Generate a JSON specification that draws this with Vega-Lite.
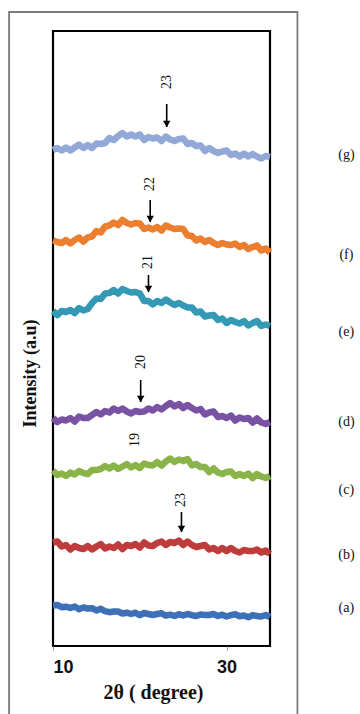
{
  "$schema": "https://vega.github.io/schema/vega-lite/v6.json",
  "width": 217,
  "height": 615,
  "autosize": "none",
  "padding": {"left": 53, "top": 31, "right": 90, "bottom": 68},
  "background": "white",
  "config": {
    "view": {"stroke": "#000000", "strokeWidth": 2.2},
    "axis": {"grid": false}
  },
  "datasets": {
    "curves": [
      {"s":"g","x":10,"y":496},{"s":"g","x":10.5,"y":498},{"s":"g","x":11,"y":495.5},{"s":"g","x":11.5,"y":498.5},{"s":"g","x":12,"y":495.5},{"s":"g","x":12.5,"y":498.5},{"s":"g","x":13,"y":501.5},{"s":"g","x":13.5,"y":498},{"s":"g","x":14,"y":501},{"s":"g","x":14.5,"y":498},{"s":"g","x":15,"y":502.5},{"s":"g","x":15.5,"y":502},{"s":"g","x":16,"y":503},{"s":"g","x":16.5,"y":508},{"s":"g","x":17,"y":506},{"s":"g","x":17.5,"y":510},{"s":"g","x":18,"y":513},{"s":"g","x":18.5,"y":509.5},{"s":"g","x":19,"y":511.5},{"s":"g","x":19.5,"y":509.5},{"s":"g","x":20,"y":511.5},{"s":"g","x":20.5,"y":506},{"s":"g","x":21,"y":509},{"s":"g","x":21.5,"y":507.5},{"s":"g","x":22,"y":508.5},{"s":"g","x":22.5,"y":505},{"s":"g","x":23,"y":509.5},{"s":"g","x":23.5,"y":506.5},{"s":"g","x":24,"y":505},{"s":"g","x":24.5,"y":507},{"s":"g","x":25,"y":507.5},{"s":"g","x":25.5,"y":502},{"s":"g","x":26,"y":503},{"s":"g","x":26.5,"y":500},{"s":"g","x":27,"y":500.5},{"s":"g","x":27.5,"y":495},{"s":"g","x":28,"y":498},{"s":"g","x":28.5,"y":495},{"s":"g","x":29,"y":493},{"s":"g","x":29.5,"y":494.5},{"s":"g","x":30,"y":495.5},{"s":"g","x":30.5,"y":491},{"s":"g","x":31,"y":492.5},{"s":"g","x":31.5,"y":489.5},{"s":"g","x":32,"y":492.5},{"s":"g","x":32.5,"y":489.5},{"s":"g","x":33,"y":492},{"s":"g","x":33.5,"y":489.5},{"s":"g","x":34,"y":487.5},{"s":"g","x":34.5,"y":490},{"s":"g","x":35,"y":489},
      {"s":"f","x":10,"y":405.5},{"s":"f","x":10.5,"y":404},{"s":"f","x":11,"y":403},{"s":"f","x":11.5,"y":406},{"s":"f","x":12,"y":402.5},{"s":"f","x":12.5,"y":406},{"s":"f","x":13,"y":408.5},{"s":"f","x":13.5,"y":404.5},{"s":"f","x":14,"y":408.5},{"s":"f","x":14.5,"y":409.5},{"s":"f","x":15,"y":415},{"s":"f","x":15.5,"y":413.5},{"s":"f","x":16,"y":419.5},{"s":"f","x":16.5,"y":420.5},{"s":"f","x":17,"y":423.5},{"s":"f","x":17.5,"y":421},{"s":"f","x":18,"y":426},{"s":"f","x":18.5,"y":423},{"s":"f","x":19,"y":421.5},{"s":"f","x":19.5,"y":423},{"s":"f","x":20,"y":422.5},{"s":"f","x":20.5,"y":417},{"s":"f","x":21,"y":418.5},{"s":"f","x":21.5,"y":416.5},{"s":"f","x":22,"y":419},{"s":"f","x":22.5,"y":415.5},{"s":"f","x":23,"y":420.5},{"s":"f","x":23.5,"y":418.5},{"s":"f","x":24,"y":417},{"s":"f","x":24.5,"y":417.5},{"s":"f","x":25,"y":417},{"s":"f","x":25.5,"y":410.5},{"s":"f","x":26,"y":410},{"s":"f","x":26.5,"y":405.5},{"s":"f","x":27,"y":407.5},{"s":"f","x":27.5,"y":404},{"s":"f","x":28,"y":406},{"s":"f","x":28.5,"y":403},{"s":"f","x":29,"y":401},{"s":"f","x":29.5,"y":403},{"s":"f","x":30,"y":401.5},{"s":"f","x":30.5,"y":401},{"s":"f","x":31,"y":402.5},{"s":"f","x":31.5,"y":399},{"s":"f","x":32,"y":401},{"s":"f","x":32.5,"y":397},{"s":"f","x":33,"y":399},{"s":"f","x":33.5,"y":400.5},{"s":"f","x":34,"y":395.5},{"s":"f","x":34.5,"y":397.5},{"s":"f","x":35,"y":393.5},
      {"s":"e","x":10,"y":335},{"s":"e","x":10.5,"y":331},{"s":"e","x":11,"y":335},{"s":"e","x":11.5,"y":334},{"s":"e","x":12,"y":336},{"s":"e","x":12.5,"y":333},{"s":"e","x":13,"y":338},{"s":"e","x":13.5,"y":335.5},{"s":"e","x":14,"y":337},{"s":"e","x":14.5,"y":343},{"s":"e","x":15,"y":347.5},{"s":"e","x":15.5,"y":347},{"s":"e","x":16,"y":352.5},{"s":"e","x":16.5,"y":353},{"s":"e","x":17,"y":356},{"s":"e","x":17.5,"y":352.5},{"s":"e","x":18,"y":357},{"s":"e","x":18.5,"y":355},{"s":"e","x":19,"y":353.5},{"s":"e","x":19.5,"y":354},{"s":"e","x":20,"y":352.5},{"s":"e","x":20.5,"y":345},{"s":"e","x":21,"y":345},{"s":"e","x":21.5,"y":341.5},{"s":"e","x":22,"y":345},{"s":"e","x":22.5,"y":343},{"s":"e","x":23,"y":346.5},{"s":"e","x":23.5,"y":343.5},{"s":"e","x":24,"y":341},{"s":"e","x":24.5,"y":343},{"s":"e","x":25,"y":340.5},{"s":"e","x":25.5,"y":338.5},{"s":"e","x":26,"y":338.5},{"s":"e","x":26.5,"y":333.5},{"s":"e","x":27,"y":334.5},{"s":"e","x":27.5,"y":329.5},{"s":"e","x":28,"y":330.5},{"s":"e","x":28.5,"y":331},{"s":"e","x":29,"y":326},{"s":"e","x":29.5,"y":327.5},{"s":"e","x":30,"y":323},{"s":"e","x":30.5,"y":326},{"s":"e","x":31,"y":324},{"s":"e","x":31.5,"y":322.5},{"s":"e","x":32,"y":325},{"s":"e","x":32.5,"y":320.5},{"s":"e","x":33,"y":323},{"s":"e","x":33.5,"y":325},{"s":"e","x":34,"y":320},{"s":"e","x":34.5,"y":321.5},{"s":"e","x":35,"y":320},
      {"s":"d","x":10,"y":228},{"s":"d","x":10.5,"y":224},{"s":"d","x":11,"y":226.5},{"s":"d","x":11.5,"y":225.5},{"s":"d","x":12,"y":228},{"s":"d","x":12.5,"y":224.5},{"s":"d","x":13,"y":229.5},{"s":"d","x":13.5,"y":228},{"s":"d","x":14,"y":228},{"s":"d","x":14.5,"y":231},{"s":"d","x":15,"y":234},{"s":"d","x":15.5,"y":231.5},{"s":"d","x":16,"y":235},{"s":"d","x":16.5,"y":233.5},{"s":"d","x":17,"y":237.5},{"s":"d","x":17.5,"y":235},{"s":"d","x":18,"y":237.5},{"s":"d","x":18.5,"y":234.5},{"s":"d","x":19,"y":232.5},{"s":"d","x":19.5,"y":235},{"s":"d","x":20,"y":234},{"s":"d","x":20.5,"y":234.5},{"s":"d","x":21,"y":237.5},{"s":"d","x":21.5,"y":235.5},{"s":"d","x":22,"y":239},{"s":"d","x":22.5,"y":236.5},{"s":"d","x":23,"y":240},{"s":"d","x":23.5,"y":243},{"s":"d","x":24,"y":239.5},{"s":"d","x":24.5,"y":242},{"s":"d","x":25,"y":238},{"s":"d","x":25.5,"y":241},{"s":"d","x":26,"y":238},{"s":"d","x":26.5,"y":235.5},{"s":"d","x":27,"y":237},{"s":"d","x":27.5,"y":231.5},{"s":"d","x":28,"y":233.5},{"s":"d","x":28.5,"y":234.5},{"s":"d","x":29,"y":229},{"s":"d","x":29.5,"y":230},{"s":"d","x":30,"y":228},{"s":"d","x":30.5,"y":230.5},{"s":"d","x":31,"y":225.5},{"s":"d","x":31.5,"y":228.5},{"s":"d","x":32,"y":227},{"s":"d","x":32.5,"y":228},{"s":"d","x":33,"y":223.5},{"s":"d","x":33.5,"y":227.5},{"s":"d","x":34,"y":223.5},{"s":"d","x":34.5,"y":222},{"s":"d","x":35,"y":224},
      {"s":"c","x":10,"y":175.5},{"s":"c","x":10.5,"y":171},{"s":"c","x":11,"y":172.5},{"s":"c","x":11.5,"y":170},{"s":"c","x":12,"y":173.5},{"s":"c","x":12.5,"y":171.5},{"s":"c","x":13,"y":175},{"s":"c","x":13.5,"y":173},{"s":"c","x":14,"y":172},{"s":"c","x":14.5,"y":176},{"s":"c","x":15,"y":176},{"s":"c","x":15.5,"y":177},{"s":"c","x":16,"y":180},{"s":"c","x":16.5,"y":177.5},{"s":"c","x":17,"y":180.5},{"s":"c","x":17.5,"y":177},{"s":"c","x":18,"y":179.5},{"s":"c","x":18.5,"y":182},{"s":"c","x":19,"y":178.5},{"s":"c","x":19.5,"y":181},{"s":"c","x":20,"y":178},{"s":"c","x":20.5,"y":182.5},{"s":"c","x":21,"y":181},{"s":"c","x":21.5,"y":180.5},{"s":"c","x":22,"y":184},{"s":"c","x":22.5,"y":180.5},{"s":"c","x":23,"y":184.5},{"s":"c","x":23.5,"y":187.5},{"s":"c","x":24,"y":184},{"s":"c","x":24.5,"y":186.5},{"s":"c","x":25,"y":185},{"s":"c","x":25.5,"y":187},{"s":"c","x":26,"y":180.5},{"s":"c","x":26.5,"y":182},{"s":"c","x":27,"y":179},{"s":"c","x":27.5,"y":179},{"s":"c","x":28,"y":174},{"s":"c","x":28.5,"y":177.5},{"s":"c","x":29,"y":173.5},{"s":"c","x":29.5,"y":172},{"s":"c","x":30,"y":174},{"s":"c","x":30.5,"y":174.5},{"s":"c","x":31,"y":170},{"s":"c","x":31.5,"y":172},{"s":"c","x":32,"y":170},{"s":"c","x":32.5,"y":172.5},{"s":"c","x":33,"y":168},{"s":"c","x":33.5,"y":172},{"s":"c","x":34,"y":169.5},{"s":"c","x":34.5,"y":168},{"s":"c","x":35,"y":170},
      {"s":"b","x":10,"y":103.5},{"s":"b","x":10.5,"y":104.5},{"s":"b","x":11,"y":99.5},{"s":"b","x":11.5,"y":101},{"s":"b","x":12,"y":96.5},{"s":"b","x":12.5,"y":100},{"s":"b","x":13,"y":98},{"s":"b","x":13.5,"y":97},{"s":"b","x":14,"y":100},{"s":"b","x":14.5,"y":96.5},{"s":"b","x":15,"y":99.5},{"s":"b","x":15.5,"y":102},{"s":"b","x":16,"y":97.5},{"s":"b","x":16.5,"y":99.5},{"s":"b","x":17,"y":98},{"s":"b","x":17.5,"y":101.5},{"s":"b","x":18,"y":97},{"s":"b","x":18.5,"y":101},{"s":"b","x":19,"y":100},{"s":"b","x":19.5,"y":102},{"s":"b","x":20,"y":98.5},{"s":"b","x":20.5,"y":103.5},{"s":"b","x":21,"y":100.5},{"s":"b","x":21.5,"y":100},{"s":"b","x":22,"y":103},{"s":"b","x":22.5,"y":104.5},{"s":"b","x":23,"y":101},{"s":"b","x":23.5,"y":104},{"s":"b","x":24,"y":103},{"s":"b","x":24.5,"y":105.5},{"s":"b","x":25,"y":101},{"s":"b","x":25.5,"y":104.5},{"s":"b","x":26,"y":101},{"s":"b","x":26.5,"y":99},{"s":"b","x":27,"y":100},{"s":"b","x":27.5,"y":101},{"s":"b","x":28,"y":96.5},{"s":"b","x":28.5,"y":98},{"s":"b","x":29,"y":95},{"s":"b","x":29.5,"y":98},{"s":"b","x":30,"y":95},{"s":"b","x":30.5,"y":98},{"s":"b","x":31,"y":95},{"s":"b","x":31.5,"y":93.5},{"s":"b","x":32,"y":96},{"s":"b","x":32.5,"y":95},{"s":"b","x":33,"y":95},{"s":"b","x":33.5,"y":96.5},{"s":"b","x":34,"y":93.5},{"s":"b","x":34.5,"y":95.5},{"s":"b","x":35,"y":92},
      {"s":"a","x":10,"y":40.5},{"s":"a","x":10.5,"y":41},{"s":"a","x":11,"y":38.8},{"s":"a","x":11.5,"y":39.3},{"s":"a","x":12,"y":38},{"s":"a","x":12.5,"y":39.5},{"s":"a","x":13,"y":36.8},{"s":"a","x":13.5,"y":38.5},{"s":"a","x":14,"y":37.5},{"s":"a","x":14.5,"y":37.8},{"s":"a","x":15,"y":35.5},{"s":"a","x":15.5,"y":37.3},{"s":"a","x":16,"y":34.8},{"s":"a","x":16.5,"y":33.8},{"s":"a","x":17,"y":34.5},{"s":"a","x":17.5,"y":34.5},{"s":"a","x":18,"y":32.5},{"s":"a","x":18.5,"y":33.3},{"s":"a","x":19,"y":32},{"s":"a","x":19.5,"y":33.3},{"s":"a","x":20,"y":30.8},{"s":"a","x":20.5,"y":33},{"s":"a","x":21,"y":32},{"s":"a","x":21.5,"y":31},{"s":"a","x":22,"y":32},{"s":"a","x":22.5,"y":32.8},{"s":"a","x":23,"y":30.3},{"s":"a","x":23.5,"y":31.3},{"s":"a","x":24,"y":30},{"s":"a","x":24.5,"y":31.8},{"s":"a","x":25,"y":30.5},{"s":"a","x":25.5,"y":32},{"s":"a","x":26,"y":30.8},{"s":"a","x":26.5,"y":30},{"s":"a","x":27,"y":31.5},{"s":"a","x":27.5,"y":31},{"s":"a","x":28,"y":31},{"s":"a","x":28.5,"y":32},{"s":"a","x":29,"y":30},{"s":"a","x":29.5,"y":31.3},{"s":"a","x":30,"y":29.5},{"s":"a","x":30.5,"y":30.8},{"s":"a","x":31,"y":31.8},{"s":"a","x":31.5,"y":29.8},{"s":"a","x":32,"y":30.5},{"s":"a","x":32.5,"y":28.8},{"s":"a","x":33,"y":30.8},{"s":"a","x":33.5,"y":30},{"s":"a","x":34,"y":29.5},{"s":"a","x":34.5,"y":31},{"s":"a","x":35,"y":29}
    ],
    "arrows": [
      {"s":"g","x":23.1,"top":542,"tip":519},
      {"s":"f","x":21.2,"top":446,"tip":424},
      {"s":"e","x":21.0,"top":371,"tip":354},
      {"s":"d","x":20.1,"top":266,"tip":244},
      {"s":"b","x":24.8,"top":134,"tip":114}
    ],
    "peaks": [
      {"x":23.1,"y":564,"t":"23"},
      {"x":21.2,"y":462,"t":"22"},
      {"x":21.0,"y":384,"t":"21"},
      {"x":20.1,"y":284,"t":"20"},
      {"x":19.4,"y":206,"t":"19"},
      {"x":24.8,"y":146,"t":"23"}
    ],
    "samples": [
      {"t":"(g)","y":491},
      {"t":"(f)","y":391},
      {"t":"(e)","y":314},
      {"t":"(d)","y":224},
      {"t":"(c)","y":156},
      {"t":"(b)","y":91},
      {"t":"(a)","y":38}
    ]
  },
  "layer": [
    {
      "data": {"values": [{}]},
      "mark": {"type": "rect", "fill": null, "stroke": "#7a7a7a", "strokeWidth": 1.8, "clip": false},
      "encoding": {
        "x": {"datum": 4.94, "type": "quantitative", "scale": {"domain": [10, 35], "nice": false, "zero": false}},
        "x2": {"datum": 38.16},
        "y": {"datum": 634, "type": "quantitative", "scale": {"domain": [0, 615], "nice": false, "zero": false}},
        "y2": {"datum": -100}
      }
    },
    {
      "data": {"name": "curves"},
      "mark": {"type": "line", "strokeWidth": 6.5, "strokeJoin": "round", "strokeCap": "butt", "interpolate": "linear"},
      "encoding": {
        "x": {"field": "x", "type": "quantitative", "scale": {"domain": [10, 35], "nice": false, "zero": false},
          "axis": {"values": [10, 30], "title": "2θ ( degree)", "domain": false, "grid": false, "ticks": true, "tickSize": 4, "tickColor": "#999999", "tickWidth": 1,
            "labelFont": "Liberation Sans", "labelFontWeight": "bold", "labelFontSize": 18, "labelColor": "#111111", "labelPadding": 8,
            "titleFont": "Liberation Serif", "titleFontWeight": "bold", "titleFontSize": 20, "titleColor": "#111111",
            "titleX": 100, "titleY": 46, "titleBaseline": "middle", "titleAlign": "center"}},
        "y": {"field": "y", "type": "quantitative", "scale": {"domain": [0, 615], "nice": false, "zero": false},
          "axis": {"title": "Intensity (a.u)", "labels": false, "ticks": false, "domain": false, "grid": false,
            "titleFont": "Liberation Serif", "titleFontWeight": "bold", "titleFontSize": 18, "titleColor": "#111111",
            "titleX": -23, "titleY": 342, "titleBaseline": "middle", "titleAlign": "center", "titleAngle": 270}},
        "color": {"field": "s", "type": "nominal", "legend": null,
          "scale": {"domain": ["a","b","c","d","e","f","g"], "range": ["#3d70b7","#be3c3b","#8ab34a","#7a52a4","#3399b4","#ec7e30","#92a9d8"]}},
        "detail": {"field": "s"}
      }
    },
    {
      "data": {"name": "arrows"},
      "mark": {"type": "rule", "color": "#000000", "strokeWidth": 1.6},
      "encoding": {
        "x": {"field": "x", "type": "quantitative"},
        "y": {"field": "top", "type": "quantitative"},
        "y2": {"field": "tip"}
      }
    },
    {
      "data": {"name": "arrows"},
      "mark": {"type": "point", "shape": "triangle-down", "filled": true, "color": "#000000", "size": 55, "opacity": 1, "yOffset": -3},
      "encoding": {
        "x": {"field": "x", "type": "quantitative"},
        "y": {"field": "tip", "type": "quantitative"}
      }
    },
    {
      "data": {"name": "peaks"},
      "mark": {"type": "text", "angle": 270, "font": "Liberation Serif", "fontSize": 14, "color": "#111111", "align": "center", "baseline": "middle"},
      "encoding": {
        "x": {"field": "x", "type": "quantitative"},
        "y": {"field": "y", "type": "quantitative"},
        "text": {"field": "t"}
      }
    },
    {
      "data": {"name": "samples"},
      "mark": {"type": "text", "font": "Liberation Serif", "fontSize": 14, "color": "#111111", "align": "center", "baseline": "middle"},
      "encoding": {
        "x": {"datum": 43.8, "type": "quantitative"},
        "y": {"field": "y", "type": "quantitative"},
        "text": {"field": "t"}
      }
    }
  ]
}
